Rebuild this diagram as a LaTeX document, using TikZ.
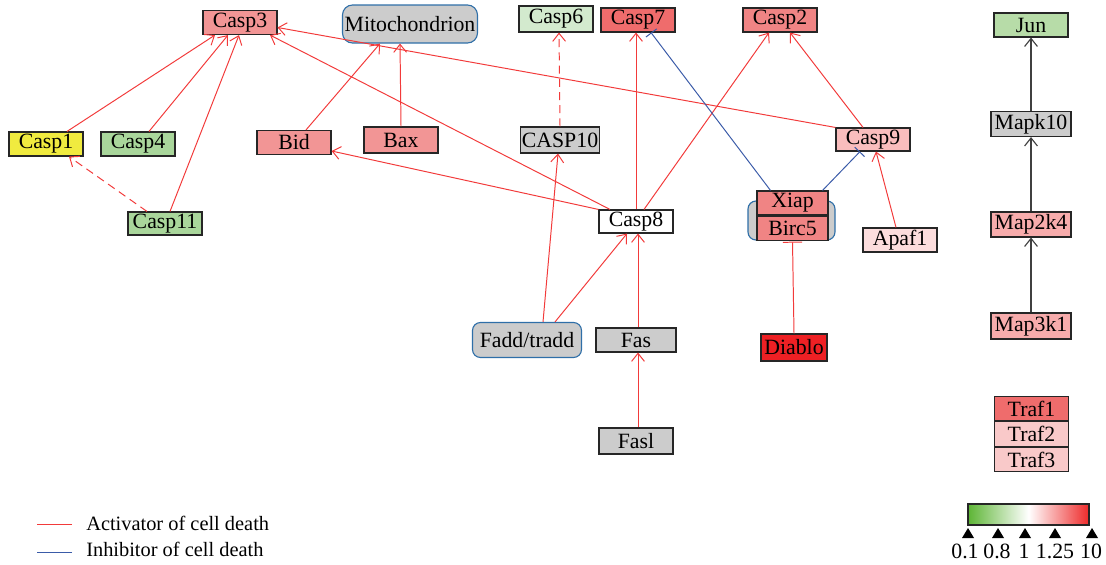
\documentclass[tikz,border=0pt]{standalone}
\usepackage{fontspec}
\setmainfont{Liberation Serif}
\usetikzlibrary{arrows.meta, positioning}

\definecolor{actred}{HTML}{F23A3A}
\definecolor{inhblue}{HTML}{3A5BA8}
\definecolor{boxblue}{HTML}{2F6FA8}
\definecolor{pinkmid}{HTML}{F29595}
\definecolor{pinkup}{HTML}{F08484}
\definecolor{pinkdark}{HTML}{EF6C6C}
\definecolor{pinklight}{HTML}{F9BDBD}
\definecolor{pinkpale}{HTML}{FCDDDD}
\definecolor{pinkmap}{HTML}{F7ACAC}
\definecolor{pinktraf}{HTML}{F9C9C9}
\definecolor{redfull}{HTML}{EE2024}
\definecolor{greenpale}{HTML}{D3EACE}
\definecolor{greenmid}{HTML}{A9D69B}
\definecolor{greenjun}{HTML}{B7DCA8}
\definecolor{yellowc}{HTML}{F0EB3F}
\definecolor{greyc}{HTML}{CCCCCC}
\definecolor{barlow}{HTML}{5DB535}
\definecolor{barhigh}{HTML}{EE2A2A}

\newcommand{\genefont}{\fontsize{15.5}{17}\selectfont}
\newcommand{\legfont}{\fontsize{14.5}{16}\selectfont}

\begin{document}
\begin{tikzpicture}[
    x=0.25mm, y=-0.25mm,
    gene/.style={rectangle, draw=black!85, line width=0.8pt, minimum width=18.5mm, minimum height=6mm, inner sep=0pt, font=\genefont},
    complex/.style={rectangle, rounded corners=2.5mm, draw=boxblue, line width=0.8pt, fill=greyc, inner sep=0pt, font=\genefont},
    act/.style={draw=actred, line width=0.7pt, -{Straight Barb[length=2mm, width=3.2mm]}},
    inh/.style={draw=inhblue, line width=0.7pt, -{Bar[width=3.4mm]}},
    sig/.style={draw=black!75, line width=0.8pt, -{Straight Barb[length=2mm, width=3.2mm]}},
    maybe/.style={dash pattern=on 2mm off 1.3mm}
]
\useasboundingbox (0,0) rectangle (1106,564);

% Top row
\node[gene, fill=pinkmid] (casp3) at (240,22.5) {Casp3};
\node[complex, minimum width=33.75mm, minimum height=9.5mm] (mito) at (410,24) {Mitochondrion};
\node[gene, fill=greenpale, minimum height=6.5mm] (casp6) at (556,19) {Casp6};
\node[gene, fill=pinkdark] (casp7) at (638,20) {Casp7};
\node[gene, fill=pinkup] (casp2) at (780,20) {Casp2};

% Second row
\node[gene, fill=yellowc] (casp1) at (46,144) {Casp1};
\node[gene, fill=greenmid] (casp4) at (138,144) {Casp4};
\node[gene, fill=pinkmid] (bid) at (294,142.5) {Bid};
\node[gene, fill=pinkmid, minimum height=6.5mm] (bax) at (401,140) {Bax};
\node[gene, fill=greyc, minimum width=19.75mm, minimum height=6.5mm] (casp10) at (560,140) {CASP10};
\node[gene, fill=pinklight, minimum height=5.75mm] (casp9) at (873,139.5) {Casp9};

% Third row
\node[gene, fill=greenmid, minimum height=5.75mm] (casp11) at (165,223.5) {Casp11};
\node[gene, fill=white, minimum height=5.75mm] (casp8) at (636,221.5) {Casp8};
\node[complex, rounded corners=2mm, minimum width=21.75mm, minimum height=9.75mm] (iap) at (791.5,220.5) {};
\node[gene, fill=pinkup, minimum width=17.75mm] (xiap) at (792.5,203) {Xiap};
\node[gene, fill=pinkup, minimum width=17.75mm, below=0pt of xiap] (birc5) {Birc5};
\node[gene, fill=pinkpale] (apaf1) at (900,240) {Apaf1};

% Receptor level
\node[complex, rounded corners=2mm, minimum width=27.25mm, minimum height=8.75mm] (fadd) at (527,340) {Fadd/tradd};
\node[gene, fill=greyc, minimum width=20mm] (fas) at (636,340) {Fas};
\node[gene, fill=redfull, minimum width=16.5mm, minimum height=6.75mm] (diablo) at (794,347.5) {Diablo};
\node[gene, fill=greyc, minimum height=6.5mm] (fasl) at (636,441) {Fasl};

% MAPK cascade (right)
\node[gene, fill=greenjun] (jun) at (1031,25) {Jun};
\node[gene, fill=greyc, minimum width=20mm, minimum height=6.25mm] (mapk10) at (1031,124) {Mapk10};
\node[gene, fill=pinkmap, minimum width=20mm, minimum height=6.25mm] (map2k4) at (1031,224.5) {Map2k4};
\node[gene, fill=pinkmap, minimum width=20mm, minimum height=6.5mm] (map3k1) at (1031,326) {Map3k1};

% Traf stack
\node[gene, fill=pinkdark, minimum height=6.1mm] (traf1) at (1031.5,408.5) {Traf1};
\node[gene, fill=pinktraf, minimum height=6.1mm, below=0pt of traf1] (traf2) {Traf2};
\node[gene, fill=pinktraf, minimum height=6.1mm, below=0pt of traf2] (traf3) {Traf3};

% Activation edges
\draw[act] ([shift={(21,0)}]casp1.north) -- ([shift={(-25,0)}]casp3.south);
\draw[act] ([shift={(11,0)}]casp4.north) -- ([shift={(-12,0)}]casp3.south);
\draw[act] ([shift={(5,0)}]casp11.north) -- ([shift={(-1,0)}]casp3.south);
\draw[act, maybe] ([shift={(-18,0)}]casp11.north) -- ([shift={(23,0)}]casp1.south);
\draw[act] ([shift={(12,0)}]bid.north) -- ([shift={(-30,0)}]mito.south);
\draw[act] (bax.north) -- ([shift={(-10,0)}]mito.south);
\draw[act] ([shift={(-26,0)}]casp8.north) -- ([shift={(30,0)}]casp3.south);
\draw[act] (casp9.north west) -- ([shift={(0,5)}]casp3.east);
\draw[act] (casp8.north west) -- ([shift={(0,8.5)}]bid.east);
\draw[act, maybe] (casp10.north) -- ([shift={(3,0)}]casp6.south);
\draw[act] (casp8.north) -- ([shift={(-2,0)}]casp7.south);
\draw[act] ([shift={(8,0)}]casp8.north) -- ([shift={(-11,0)}]casp2.south);
\draw[act] ([shift={(-10,0)}]casp9.north) -- ([shift={(10,0)}]casp2.south);
\draw[act] ([shift={(-4,0)}]apaf1.north) -- ([shift={(3,0)}]casp9.south);
\draw[act] ([shift={(16,0)}]fadd.north) -- ([shift={(-2,0)}]casp10.south);
\draw[act] ([shift={(28,0)}]fadd.north) -- ([shift={(-9,0)}]casp8.south);
\draw[act] ([shift={(2,0)}]fas.north) -- ([shift={(2,0)}]casp8.south);
\draw[act] ([shift={(2,0)}]fasl.north) -- ([shift={(2,0)}]fas.south);

% Inhibition edges
\draw[inh] ([shift={(-22,0)}]xiap.north) -- ([shift={(13,0)}]casp7.south);
\draw[inh] ([shift={(30,0)}]xiap.north) -- ([shift={(-13,0)}]casp9.south);
\draw[act, -{Bar[width=4.8mm]}] (diablo.north) -- ([shift={(0,1)}]birc5.south);

% MAPK edges
\draw[sig] (map3k1.north) -- (map2k4.south);
\draw[sig] (map2k4.north) -- (mapk10.south);
\draw[sig] (mapk10.north) -- (jun.south);

% Legend
\node[anchor=west, inner sep=0pt, font=\legfont] (legact) at (86,523) {Activator of cell death};
\node[anchor=west, inner sep=0pt, font=\legfont] (leginh) at (86,549) {Inhibitor of cell death};
\draw[actred, line width=0.7pt] ([shift={(-14,1)}]legact.west) -- ++(-35,0);
\draw[inhblue, line width=0.7pt] ([shift={(-14,3)}]leginh.west) -- ++(-35,0);

% Colour scale
\node[draw=black!85, line width=0.8pt, minimum width=30.25mm, minimum height=5.25mm, inner sep=0pt,
      left color=barlow, right color=barhigh, middle color=white] (scale) at (1028.5,514.5) {};
\foreach \tx/\lx/\val in {968/965/0.1, 998/997/0.8, 1025/1024/1, 1055/1055/1.25, 1092/1091/10} {
  \fill[black] (\tx-6,538) -- (\tx+6,538) -- (\tx,528) -- cycle;
  \node[font=\genefont, inner sep=0pt] at (\lx,551) {\val};
}

\end{tikzpicture}
\end{document}
